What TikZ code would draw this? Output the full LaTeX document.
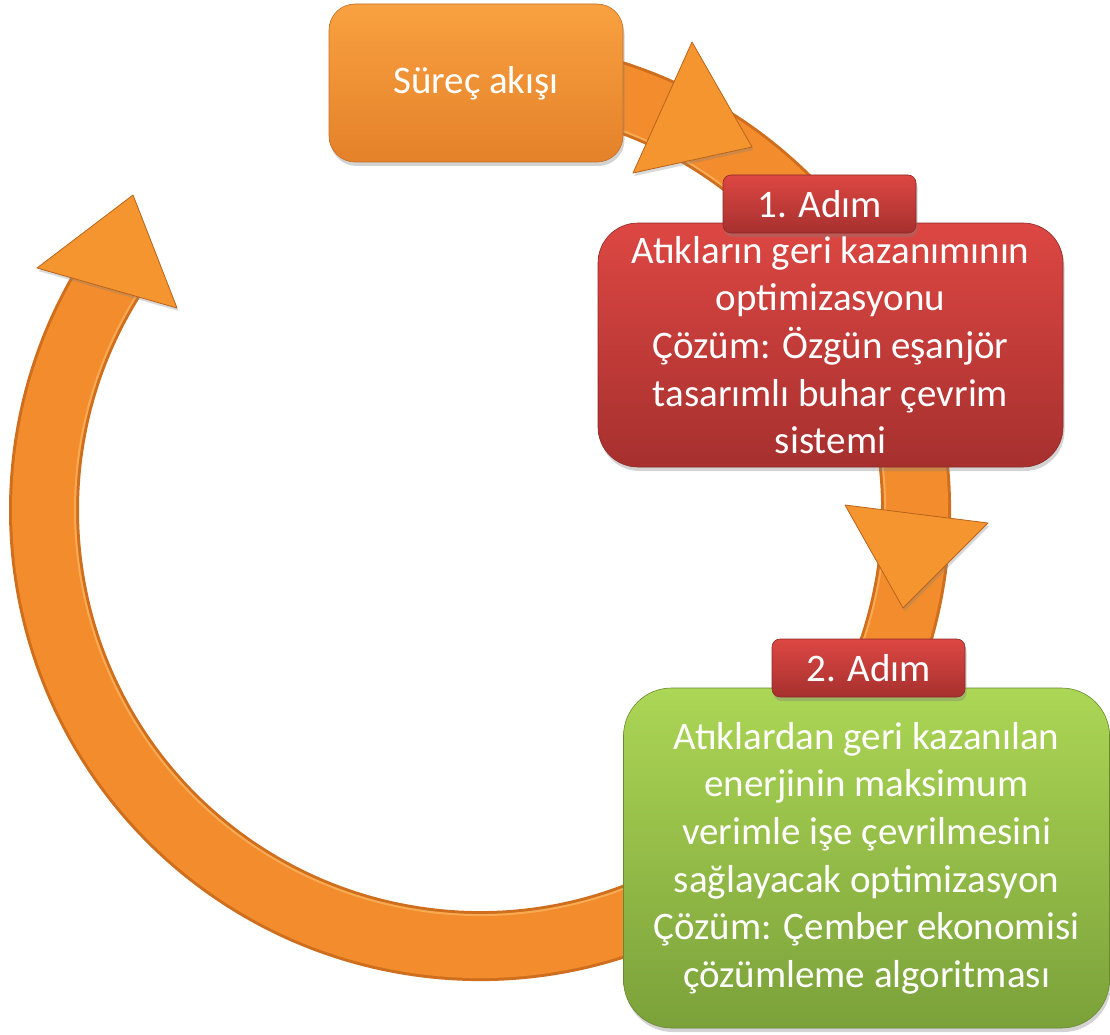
\documentclass[tikz,border=0pt]{standalone}
\usepackage{fontspec}
\setmainfont{Carlito}
\usetikzlibrary{shadows}

\definecolor{orTop}{HTML}{F9A140}
\definecolor{orBot}{HTML}{E4812A}
\definecolor{ringMain}{HTML}{F28C2C}
\definecolor{ringEdge}{HTML}{CF6F1E}
\definecolor{ringLight}{HTML}{FAB25C}
\definecolor{tipFill}{HTML}{F5952F}
\definecolor{tipEdge}{HTML}{B8641C}
\definecolor{rdTop}{HTML}{DD4743}
\definecolor{rdBot}{HTML}{A6302E}
\definecolor{gnTop}{HTML}{ACD655}
\definecolor{gnBot}{HTML}{7BA13A}

\tikzset{
  card/.style={inner sep=0pt, align=center, text=white,
    font=\fontsize{39}{47.6}\selectfont,
    drop shadow={opacity=0.35, shadow xshift=1.5pt, shadow yshift=-4pt}},
  orangecard/.style={card, top color=orTop, bottom color=orBot,
    draw=orBot!85!black, line width=0.6pt},
  redcard/.style={card, top color=rdTop, bottom color=rdBot,
    draw=rdBot!85!black, line width=0.6pt},
  greencard/.style={card, top color=gnTop, bottom color=gnBot,
    draw=gnBot!85!black, line width=0.6pt},
  steptag/.style={redcard, rounded corners=8pt,
    minimum width=193pt, minimum height=58pt},
  tiphead/.style={fill=tipFill, draw=tipEdge, line width=0.8pt, line join=round,
    drop shadow={opacity=0.3, shadow xshift=1.5pt, shadow yshift=-3pt}},
}

\begin{document}
\begin{tikzpicture}[x=1pt, y=-1pt]
  \path[use as bounding box] (0,0) rectangle (1110,1035);

  % ring centre
  \coordinate (ringc) at (480,510);

  % soft shadow under the band
  \begin{scope}[xshift=1.5pt, yshift=-4pt]
    \draw[line width=68pt, black, opacity=0.12] (ringc) ++(-78:436)
       arc[start angle=-78, end angle=213, radius=436];
  \end{scope}

  % circular band running clockwise from behind the first box to the last arrowhead
  \draw[line width=70pt, ringEdge] (ringc) ++(-78:436)
     arc[start angle=-78, end angle=213, radius=436];
  \draw[line width=64pt, ringMain] (ringc) ++(-78:436)
     arc[start angle=-78, end angle=213, radius=436];
  \draw[line width=2pt, ringLight, opacity=0.8] (ringc) ++(-78:405)
     arc[start angle=-78, end angle=213, radius=405];

  % arrowheads on the band
  \coordinate (h1a) at (692,42);  \coordinate (h1b) at (752,147); \coordinate (h1c) at (633,173);
  \coordinate (h2a) at (845,505); \coordinate (h2b) at (988,523); \coordinate (h2c) at (903,608);
  \coordinate (h3a) at (133,195); \coordinate (h3b) at (37,268);  \coordinate (h3c) at (177,308);
  \path[tiphead] (h1a) -- (h1b) -- (h1c) -- cycle;
  \path[tiphead] (h2a) -- (h2b) -- (h2c) -- cycle;
  \path[tiphead] (h3a) -- (h3b) -- (h3c) -- cycle;

  % process boxes
  \node[orangecard, rounded corners=26pt, minimum width=294pt, minimum height=158pt]
    (start) at (476,83) {Süreç akışı};

  \node[redcard, rounded corners=40pt, minimum width=465pt, minimum height=244pt]
    (stepone) at (830.5,345)
    {Atıkların geri kazanımının\\optimizasyonu\\Çözüm: Özgün eşanjör\\tasarımlı buhar çevrim\\sistemi};

  \node[greencard, rounded corners=48pt, minimum width=486pt, minimum height=340pt]
    (steptwo) at (866.5,858)
    {Atıklardan geri kazanılan\\enerjinin maksimum\\verimle işe çevrilmesini\\sağlayacak optimizasyon\\Çözüm: Çember ekonomisi\\çözümleme algoritması};

  % step tags
  \node[steptag] (tagone) at (819.5,204) {1. Adım};
  \node[steptag] (tagtwo) at (868.5,668) {2. Adım};
\end{tikzpicture}
\end{document}
